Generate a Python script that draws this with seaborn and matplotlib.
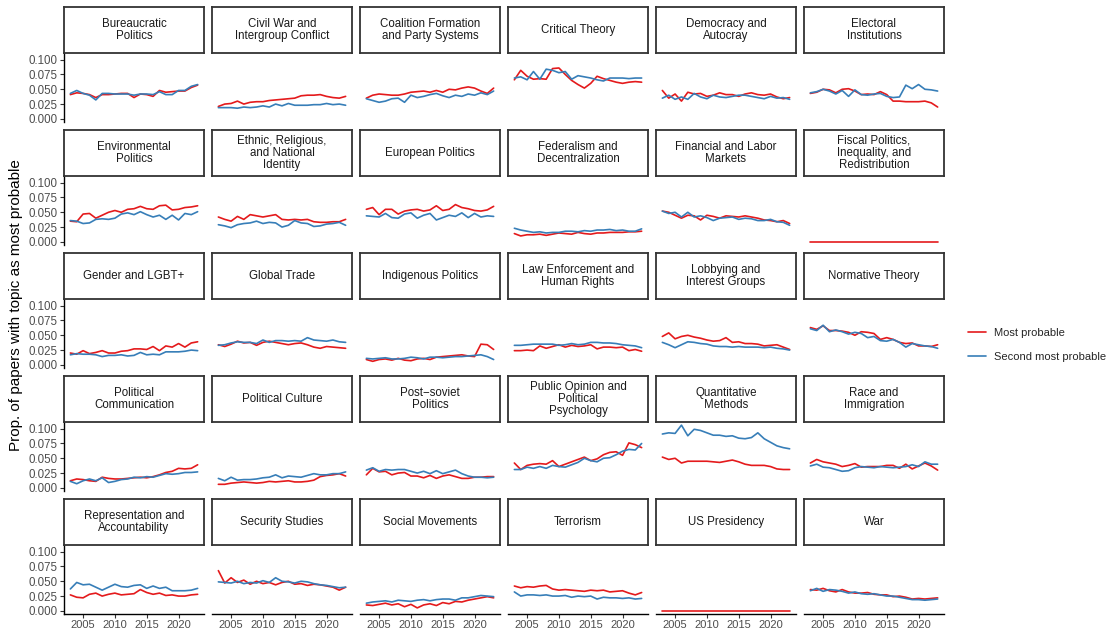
import matplotlib
matplotlib.use("Agg")
import matplotlib.pyplot as plt
from matplotlib.lines import Line2D
import pandas as pd
import seaborn as sns

# years shown on the x axis
years = list(range(2003, 2024))

topics = [
    "Bureaucratic\nPolitics", "Civil War and\nIntergroup Conflict", "Coalition Formation\nand Party Systems",
    "Critical Theory", "Democracy and\nAutocray", "Electoral\nInstitutions",
    "Environmental\nPolitics", "Ethnic, Religious,\nand National\nIdentity", "European Politics",
    "Federalism and\nDecentralization", "Financial and Labor\nMarkets", "Fiscal Politics,\nInequality, and\nRedistribution",
    "Gender and LGBT+", "Global Trade", "Indigenous Politics",
    "Law Enforcement and\nHuman Rights", "Lobbying and\nInterest Groups", "Normative Theory",
    "Political\nCommunication", "Political Culture", "Post\u2212soviet\nPolitics",
    "Public Opinion and\nPolitical\nPsychology", "Quantitative\nMethods", "Race and\nImmigration",
    "Representation and\nAccountability", "Security Studies", "Social Movements",
    "Terrorism", "US Presidency", "War",
]

# share of papers with the topic as most probable
most_probable = [
    [0.041, 0.044, 0.043, 0.041, 0.036, 0.041, 0.041, 0.042, 0.043, 0.043, 0.036, 0.042, 0.041, 0.038, 0.048, 0.045, 0.046, 0.047, 0.047, 0.053, 0.057],
    [0.021, 0.025, 0.026, 0.030, 0.025, 0.028, 0.029, 0.029, 0.031, 0.032, 0.033, 0.034, 0.035, 0.039, 0.040, 0.040, 0.041, 0.038, 0.036, 0.035, 0.038],
    [0.035, 0.040, 0.042, 0.041, 0.040, 0.040, 0.042, 0.045, 0.046, 0.047, 0.045, 0.048, 0.045, 0.050, 0.049, 0.052, 0.054, 0.052, 0.047, 0.043, 0.052],
    [0.066, 0.082, 0.072, 0.067, 0.068, 0.067, 0.085, 0.086, 0.075, 0.065, 0.058, 0.052, 0.060, 0.072, 0.068, 0.065, 0.062, 0.060, 0.062, 0.063, 0.062],
    [0.048, 0.035, 0.042, 0.030, 0.045, 0.042, 0.043, 0.038, 0.040, 0.044, 0.041, 0.041, 0.038, 0.042, 0.044, 0.041, 0.040, 0.042, 0.037, 0.034, 0.036],
    [0.043, 0.045, 0.050, 0.049, 0.044, 0.050, 0.051, 0.047, 0.041, 0.042, 0.041, 0.046, 0.041, 0.030, 0.030, 0.029, 0.029, 0.029, 0.030, 0.027, 0.020],
    [0.035, 0.034, 0.047, 0.048, 0.040, 0.045, 0.050, 0.053, 0.050, 0.055, 0.056, 0.060, 0.056, 0.055, 0.061, 0.062, 0.054, 0.055, 0.058, 0.059, 0.061],
    [0.042, 0.038, 0.035, 0.043, 0.038, 0.046, 0.044, 0.042, 0.044, 0.046, 0.038, 0.037, 0.038, 0.037, 0.038, 0.034, 0.033, 0.033, 0.034, 0.034, 0.038],
    [0.055, 0.058, 0.046, 0.055, 0.055, 0.047, 0.052, 0.054, 0.055, 0.052, 0.054, 0.061, 0.053, 0.055, 0.063, 0.058, 0.056, 0.053, 0.052, 0.054, 0.060],
    [0.014, 0.010, 0.012, 0.012, 0.013, 0.011, 0.013, 0.015, 0.014, 0.013, 0.016, 0.014, 0.013, 0.015, 0.015, 0.016, 0.016, 0.016, 0.017, 0.017, 0.018],
    [0.052, 0.050, 0.045, 0.040, 0.045, 0.044, 0.037, 0.045, 0.043, 0.040, 0.044, 0.043, 0.042, 0.044, 0.042, 0.040, 0.037, 0.036, 0.034, 0.036, 0.031],
    [0.000] * 21,
    [0.020, 0.018, 0.024, 0.019, 0.021, 0.024, 0.020, 0.020, 0.023, 0.024, 0.027, 0.027, 0.026, 0.031, 0.024, 0.032, 0.030, 0.036, 0.030, 0.037, 0.039],
    [0.034, 0.031, 0.035, 0.040, 0.037, 0.038, 0.033, 0.038, 0.040, 0.038, 0.036, 0.034, 0.036, 0.037, 0.034, 0.030, 0.028, 0.031, 0.030, 0.029, 0.028],
    [0.009, 0.006, 0.009, 0.010, 0.008, 0.011, 0.008, 0.007, 0.010, 0.011, 0.009, 0.013, 0.014, 0.015, 0.016, 0.017, 0.015, 0.014, 0.035, 0.034, 0.026],
    [0.024, 0.024, 0.025, 0.024, 0.032, 0.028, 0.031, 0.034, 0.030, 0.033, 0.031, 0.032, 0.034, 0.027, 0.030, 0.030, 0.029, 0.030, 0.024, 0.026, 0.023],
    [0.048, 0.054, 0.044, 0.048, 0.050, 0.047, 0.045, 0.042, 0.040, 0.041, 0.046, 0.038, 0.039, 0.036, 0.036, 0.035, 0.032, 0.033, 0.034, 0.030, 0.026],
    [0.063, 0.060, 0.066, 0.058, 0.058, 0.057, 0.055, 0.050, 0.056, 0.055, 0.053, 0.043, 0.046, 0.043, 0.038, 0.036, 0.037, 0.032, 0.032, 0.031, 0.034],
    [0.012, 0.015, 0.014, 0.012, 0.011, 0.018, 0.016, 0.015, 0.015, 0.016, 0.017, 0.018, 0.017, 0.019, 0.022, 0.026, 0.028, 0.033, 0.032, 0.033, 0.039],
    [0.006, 0.006, 0.008, 0.009, 0.010, 0.009, 0.008, 0.009, 0.011, 0.010, 0.011, 0.012, 0.010, 0.010, 0.011, 0.013, 0.019, 0.021, 0.022, 0.024, 0.020],
    [0.022, 0.033, 0.027, 0.028, 0.022, 0.025, 0.026, 0.020, 0.020, 0.017, 0.021, 0.016, 0.020, 0.022, 0.019, 0.016, 0.016, 0.018, 0.018, 0.019, 0.019],
    [0.042, 0.031, 0.038, 0.040, 0.041, 0.040, 0.046, 0.036, 0.040, 0.044, 0.048, 0.052, 0.046, 0.049, 0.056, 0.060, 0.061, 0.055, 0.076, 0.073, 0.068],
    [0.052, 0.048, 0.050, 0.042, 0.045, 0.045, 0.045, 0.045, 0.044, 0.043, 0.045, 0.047, 0.044, 0.040, 0.038, 0.038, 0.038, 0.036, 0.032, 0.031, 0.031],
    [0.042, 0.048, 0.044, 0.042, 0.040, 0.036, 0.038, 0.041, 0.035, 0.036, 0.036, 0.036, 0.038, 0.038, 0.033, 0.040, 0.032, 0.037, 0.042, 0.037, 0.030],
    [0.027, 0.023, 0.022, 0.028, 0.030, 0.025, 0.028, 0.030, 0.027, 0.028, 0.029, 0.036, 0.031, 0.028, 0.030, 0.026, 0.027, 0.025, 0.025, 0.027, 0.028],
    [0.068, 0.047, 0.056, 0.048, 0.052, 0.045, 0.050, 0.046, 0.048, 0.044, 0.048, 0.050, 0.045, 0.046, 0.043, 0.045, 0.044, 0.042, 0.040, 0.035, 0.040],
    [0.010, 0.009, 0.011, 0.013, 0.010, 0.012, 0.007, 0.011, 0.005, 0.010, 0.012, 0.009, 0.014, 0.012, 0.016, 0.015, 0.018, 0.020, 0.022, 0.024, 0.022],
    [0.042, 0.039, 0.041, 0.040, 0.042, 0.043, 0.037, 0.035, 0.036, 0.035, 0.034, 0.033, 0.035, 0.034, 0.035, 0.032, 0.033, 0.034, 0.030, 0.027, 0.031],
    [0.000] * 21,
    [0.036, 0.035, 0.038, 0.034, 0.032, 0.036, 0.032, 0.030, 0.030, 0.031, 0.028, 0.027, 0.027, 0.024, 0.025, 0.023, 0.020, 0.021, 0.020, 0.021, 0.022],
]

# share of papers with the topic as second most probable (None = not drawn)
second_probable = [
    [0.043, 0.048, 0.043, 0.040, 0.032, 0.043, 0.043, 0.042, 0.042, 0.042, 0.040, 0.042, 0.042, 0.041, 0.046, 0.041, 0.041, 0.048, 0.048, 0.055, 0.058],
    [0.019, 0.019, 0.019, 0.018, 0.020, 0.019, 0.020, 0.022, 0.020, 0.025, 0.022, 0.026, 0.023, 0.023, 0.023, 0.024, 0.024, 0.026, 0.024, 0.025, 0.023],
    [0.034, 0.031, 0.028, 0.030, 0.034, 0.035, 0.028, 0.040, 0.036, 0.038, 0.041, 0.043, 0.039, 0.036, 0.040, 0.038, 0.042, 0.040, 0.044, 0.041, 0.047],
    [0.069, 0.071, 0.066, 0.080, 0.067, 0.084, 0.082, 0.078, 0.080, 0.067, 0.073, 0.071, 0.069, 0.066, 0.064, 0.069, 0.069, 0.069, 0.068, 0.069, 0.069],
    [0.035, 0.040, 0.033, 0.037, 0.033, 0.043, 0.037, 0.034, 0.040, 0.037, 0.036, 0.038, 0.040, 0.040, 0.038, 0.036, 0.034, 0.038, 0.035, 0.036, 0.033],
    [0.044, 0.046, 0.050, 0.047, 0.042, 0.048, 0.038, 0.049, 0.041, 0.040, 0.042, 0.043, 0.038, 0.036, 0.037, 0.057, 0.051, 0.058, 0.050, 0.049, 0.047],
    [0.036, 0.035, 0.031, 0.032, 0.038, 0.039, 0.038, 0.040, 0.047, 0.049, 0.046, 0.051, 0.046, 0.042, 0.045, 0.038, 0.045, 0.037, 0.048, 0.046, 0.051],
    [0.029, 0.027, 0.024, 0.029, 0.031, 0.032, 0.035, 0.031, 0.033, 0.032, 0.025, 0.028, 0.036, 0.032, 0.031, 0.026, 0.027, 0.030, 0.031, 0.033, 0.028],
    [0.044, 0.043, 0.042, 0.048, 0.041, 0.040, 0.047, 0.049, 0.040, 0.045, 0.048, 0.037, 0.041, 0.045, 0.043, 0.049, 0.041, 0.048, 0.042, 0.044, 0.043],
    [0.023, 0.020, 0.018, 0.016, 0.017, 0.015, 0.016, 0.016, 0.018, 0.018, 0.017, 0.019, 0.018, 0.020, 0.020, 0.021, 0.019, 0.020, 0.018, 0.018, 0.022],
    [0.052, 0.048, 0.050, 0.042, 0.050, 0.042, 0.044, 0.041, 0.036, 0.040, 0.041, 0.042, 0.038, 0.040, 0.039, 0.036, 0.036, 0.038, 0.034, 0.033, 0.028],
    None,
    [0.017, 0.019, 0.018, 0.018, 0.017, 0.014, 0.016, 0.016, 0.017, 0.015, 0.016, 0.021, 0.017, 0.018, 0.017, 0.022, 0.022, 0.022, 0.023, 0.025, 0.024],
    [0.033, 0.034, 0.037, 0.039, 0.038, 0.038, 0.036, 0.042, 0.038, 0.041, 0.041, 0.040, 0.041, 0.040, 0.046, 0.042, 0.041, 0.040, 0.042, 0.039, 0.038],
    [0.011, 0.010, 0.011, 0.012, 0.010, 0.010, 0.011, 0.013, 0.012, 0.010, 0.013, 0.013, 0.012, 0.013, 0.014, 0.014, 0.015, 0.016, 0.017, 0.014, 0.009],
    [0.033, 0.033, 0.034, 0.035, 0.035, 0.035, 0.035, 0.033, 0.034, 0.036, 0.034, 0.035, 0.038, 0.038, 0.037, 0.037, 0.036, 0.034, 0.033, 0.032, 0.029],
    [0.038, 0.034, 0.029, 0.034, 0.039, 0.038, 0.036, 0.035, 0.032, 0.031, 0.031, 0.030, 0.031, 0.030, 0.030, 0.030, 0.029, 0.030, 0.028, 0.027, 0.025],
    [0.061, 0.058, 0.067, 0.056, 0.059, 0.056, 0.052, 0.055, 0.053, 0.046, 0.048, 0.041, 0.040, 0.043, 0.038, 0.030, 0.036, 0.034, 0.032, 0.031, 0.028],
    [0.011, 0.007, 0.012, 0.015, 0.012, 0.017, 0.009, 0.011, 0.014, 0.015, 0.018, 0.017, 0.019, 0.018, 0.021, 0.024, 0.023, 0.024, 0.026, 0.026, 0.027],
    [0.016, 0.012, 0.018, 0.013, 0.014, 0.014, 0.015, 0.017, 0.018, 0.022, 0.017, 0.020, 0.019, 0.018, 0.021, 0.024, 0.022, 0.022, 0.024, 0.024, 0.027],
    [0.030, 0.034, 0.028, 0.031, 0.030, 0.031, 0.031, 0.028, 0.025, 0.028, 0.024, 0.029, 0.024, 0.027, 0.030, 0.024, 0.020, 0.018, 0.018, 0.017, 0.018],
    [0.031, 0.031, 0.035, 0.033, 0.036, 0.033, 0.038, 0.036, 0.035, 0.039, 0.043, 0.050, 0.046, 0.044, 0.050, 0.051, 0.056, 0.062, 0.065, 0.064, 0.075],
    [0.091, 0.093, 0.092, 0.106, 0.088, 0.099, 0.097, 0.093, 0.089, 0.089, 0.087, 0.088, 0.084, 0.083, 0.085, 0.093, 0.083, 0.077, 0.071, 0.068, 0.066],
    [0.037, 0.040, 0.035, 0.034, 0.031, 0.028, 0.029, 0.034, 0.036, 0.035, 0.034, 0.036, 0.035, 0.034, 0.035, 0.036, 0.039, 0.036, 0.044, 0.040, 0.040],
    [0.037, 0.048, 0.044, 0.045, 0.040, 0.035, 0.040, 0.045, 0.041, 0.040, 0.043, 0.044, 0.038, 0.042, 0.038, 0.040, 0.034, 0.034, 0.034, 0.035, 0.038],
    [0.049, 0.048, 0.047, 0.050, 0.046, 0.048, 0.047, 0.051, 0.048, 0.056, 0.050, 0.049, 0.047, 0.050, 0.049, 0.046, 0.044, 0.043, 0.041, 0.039, 0.040],
    [0.013, 0.015, 0.016, 0.017, 0.015, 0.018, 0.017, 0.016, 0.018, 0.019, 0.017, 0.019, 0.020, 0.020, 0.018, 0.022, 0.022, 0.024, 0.026, 0.025, 0.024],
    [0.032, 0.025, 0.027, 0.027, 0.026, 0.027, 0.025, 0.025, 0.026, 0.023, 0.025, 0.024, 0.025, 0.020, 0.023, 0.022, 0.022, 0.021, 0.022, 0.020, 0.021],
    None,
    [0.034, 0.038, 0.033, 0.036, 0.035, 0.033, 0.030, 0.032, 0.029, 0.028, 0.029, 0.027, 0.025, 0.025, 0.023, 0.021, 0.019, 0.019, 0.018, 0.019, 0.020],
]

series_names = ["Most probable", "Second most probable"]

rows = []
for t, m, s in zip(topics, most_probable, second_probable):
    for yr, v in zip(years, m):
        rows.append((t, yr, v, series_names[0]))
    if s is not None:
        for yr, v in zip(years, s):
            rows.append((t, yr, v, series_names[1]))
df = pd.DataFrame(rows, columns=["topic", "year", "prop", "series"])

sns.set_theme(style="white")
plt.rcParams["font.family"] = ["Liberation Sans", "DejaVu Sans"]

W, H = 1116, 631
fig = plt.figure(figsize=(W / 100, H / 100), dpi=100)
palette = {"Most probable": "#E41A1C", "Second most probable": "#377EB8"}


def box(left, top, width, height):
    # pixel box (from top-left) -> figure fraction
    return [left / W, 1 - (top + height) / H, width / W, height / H]


for i, t in enumerate(topics):
    r, c = divmod(i, 6)
    x0 = 64 + 148 * c
    ytop = 53 + 123 * r
    ax = fig.add_axes(box(x0, ytop, 140, 69))
    sub = df[df["topic"] == t]
    sns.lineplot(data=sub, x="year", y="prop", hue="series", hue_order=series_names,
                 palette=palette, ax=ax, legend=False, linewidth=1.2)
    ax.set_xlim(2002, 2024)
    ax.set_ylim(-0.0053, 0.1113)
    ax.set_xlabel("")
    ax.set_ylabel("")
    ax.set_facecolor("white")
    for sp in ax.spines.values():
        sp.set_visible(False)
    ax.set_xticks([2005, 2010, 2015, 2020])
    ax.set_yticks([0, 0.025, 0.05, 0.075, 0.1])
    ax.tick_params(length=3, width=0.8, color="#333333", labelcolor="#4d4d4d",
                   labelsize=8.3, pad=1.5)
    if c == 0:
        ax.spines["left"].set_visible(True)
        ax.spines["left"].set_color("black")
        ax.spines["left"].set_linewidth(1.0)
        ax.set_yticklabels(["0.000", "0.025", "0.050", "0.075", "0.100"])
        ax.tick_params(axis="y", left=True)
    else:
        ax.tick_params(axis="y", left=False, labelleft=False)
    if r == 4:
        ax.spines["bottom"].set_visible(True)
        ax.spines["bottom"].set_color("black")
        ax.spines["bottom"].set_linewidth(1.0)
        ax.tick_params(axis="x", bottom=True, pad=1.0, labelsize=8)
    else:
        ax.tick_params(axis="x", bottom=False, labelbottom=False)

    # strip above the panel
    sax = fig.add_axes(box(x0, 7 + 123 * r, 140, 46))
    sax.set_xticks([])
    sax.set_yticks([])
    sax.set_facecolor("white")
    for sp in sax.spines.values():
        sp.set_visible(True)
        sp.set_color("#333333")
        sp.set_linewidth(1.3)
    sax.text(0.5, 0.5, t, ha="center", va="center", fontsize=8.3,
             linespacing=1.05, color="#1a1a1a", transform=sax.transAxes)

fig.text(16 / W, 1 - 305 / H, "Prop. of papers with topic as most probable",
         rotation=90, ha="center", va="center", fontsize=11, color="black")

handles = [Line2D([0], [0], color=palette[n], lw=1.2) for n in series_names]
fig.legend(handles, series_names, loc="center left",
           bbox_to_anchor=(958 / W, 1 - 345 / H), frameon=False, fontsize=8,
           handlelength=1.6, labelspacing=1.3, handletextpad=0.7)

fig.savefig("out.png", dpi=100, facecolor="white")
